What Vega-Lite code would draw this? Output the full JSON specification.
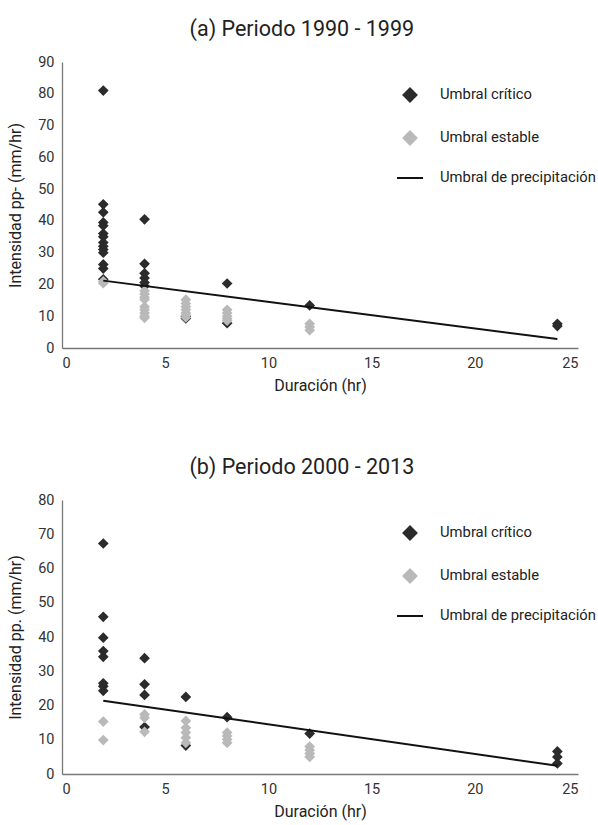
{
  "$schema": "https://vega.github.io/schema/vega-lite/v6.json",
  "background": "white",
  "padding": {"left": 7, "top": 18, "right": 10, "bottom": 5},
  "config": {
    "font": "Roboto, sans-serif",
    "view": {"stroke": null},
    "title": {"font": "Roboto", "fontSize": 21.5, "fontWeight": "normal", "color": "#222222", "offset": 14, "frame": "bounds"},
    "axis": {
      "grid": false,
      "ticks": false,
      "labelOverlap": false,
      "domainColor": "#777777",
      "domainWidth": 1.3,
      "labelFont": "Roboto",
      "labelFontSize": 14.5,
      "labelColor": "#333333",
      "titleFont": "Roboto",
      "titleFontSize": 16,
      "titleFontWeight": "normal",
      "titleColor": "#222222"
    },
    "axisX": {"labelPadding": 8, "titlePadding": 8},
    "axisY": {"labelPadding": 8, "titlePadding": 14},
    "legend": {
      "orient": "none",
      "legendX": 340,
      "legendY": 25,
      "title": null,
      "labelFont": "Roboto",
      "labelFontSize": 14.8,
      "labelColor": "#222222",
      "rowPadding": 21,
      "labelOffset": 22,
      "symbolStrokeWidth": 2
    }
  },
  "datasets": {
    "puntos_a": [
      {"d": 2, "i": 81, "serie": "Umbral crítico"},
      {"d": 2, "i": 45.2, "serie": "Umbral crítico"},
      {"d": 2, "i": 42.7, "serie": "Umbral crítico"},
      {"d": 2, "i": 39.5, "serie": "Umbral crítico"},
      {"d": 2, "i": 38.5, "serie": "Umbral crítico"},
      {"d": 2, "i": 36, "serie": "Umbral crítico"},
      {"d": 2, "i": 35, "serie": "Umbral crítico"},
      {"d": 2, "i": 33.2, "serie": "Umbral crítico"},
      {"d": 2, "i": 32, "serie": "Umbral crítico"},
      {"d": 2, "i": 31, "serie": "Umbral crítico"},
      {"d": 2, "i": 30, "serie": "Umbral crítico"},
      {"d": 2, "i": 26.3, "serie": "Umbral crítico"},
      {"d": 2, "i": 25, "serie": "Umbral crítico"},
      {"d": 2, "i": 21.6, "serie": "Umbral crítico"},
      {"d": 4, "i": 40.5, "serie": "Umbral crítico"},
      {"d": 4, "i": 26.5, "serie": "Umbral crítico"},
      {"d": 4, "i": 23.5, "serie": "Umbral crítico"},
      {"d": 4, "i": 22, "serie": "Umbral crítico"},
      {"d": 4, "i": 20.6, "serie": "Umbral crítico"},
      {"d": 4, "i": 19.5, "serie": "Umbral crítico"},
      {"d": 6, "i": 9.3, "serie": "Umbral crítico"},
      {"d": 6, "i": 10, "serie": "Umbral crítico"},
      {"d": 8, "i": 20.3, "serie": "Umbral crítico"},
      {"d": 8, "i": 7.8, "serie": "Umbral crítico"},
      {"d": 12, "i": 13.4, "serie": "Umbral crítico"},
      {"d": 24, "i": 7.6, "serie": "Umbral crítico"},
      {"d": 24, "i": 6.9, "serie": "Umbral crítico"},
      {"d": 2, "i": 21, "serie": "Umbral estable"},
      {"d": 2, "i": 20.4, "serie": "Umbral estable"},
      {"d": 4, "i": 18, "serie": "Umbral estable"},
      {"d": 4, "i": 17, "serie": "Umbral estable"},
      {"d": 4, "i": 16, "serie": "Umbral estable"},
      {"d": 4, "i": 15.3, "serie": "Umbral estable"},
      {"d": 4, "i": 13, "serie": "Umbral estable"},
      {"d": 4, "i": 12, "serie": "Umbral estable"},
      {"d": 4, "i": 11, "serie": "Umbral estable"},
      {"d": 4, "i": 10, "serie": "Umbral estable"},
      {"d": 4, "i": 9.5, "serie": "Umbral estable"},
      {"d": 6, "i": 15.2, "serie": "Umbral estable"},
      {"d": 6, "i": 14, "serie": "Umbral estable"},
      {"d": 6, "i": 13, "serie": "Umbral estable"},
      {"d": 6, "i": 12, "serie": "Umbral estable"},
      {"d": 6, "i": 11, "serie": "Umbral estable"},
      {"d": 6, "i": 10.3, "serie": "Umbral estable"},
      {"d": 6, "i": 9.6, "serie": "Umbral estable"},
      {"d": 8, "i": 12, "serie": "Umbral estable"},
      {"d": 8, "i": 11, "serie": "Umbral estable"},
      {"d": 8, "i": 10, "serie": "Umbral estable"},
      {"d": 8, "i": 9.2, "serie": "Umbral estable"},
      {"d": 8, "i": 8.6, "serie": "Umbral estable"},
      {"d": 12, "i": 7.6, "serie": "Umbral estable"},
      {"d": 12, "i": 6.6, "serie": "Umbral estable"},
      {"d": 12, "i": 5.6, "serie": "Umbral estable"}
    ],
    "linea_a": [
      {"d": 2, "i": 21.2, "serie": "Umbral de precipitación"},
      {"d": 24, "i": 2.8, "serie": "Umbral de precipitación"}
    ],
    "puntos_b": [
      {"d": 2, "i": 67.3, "serie": "Umbral crítico"},
      {"d": 2, "i": 45.9, "serie": "Umbral crítico"},
      {"d": 2, "i": 39.8, "serie": "Umbral crítico"},
      {"d": 2, "i": 35.9, "serie": "Umbral crítico"},
      {"d": 2, "i": 34.2, "serie": "Umbral crítico"},
      {"d": 2, "i": 26.5, "serie": "Umbral crítico"},
      {"d": 2, "i": 25.6, "serie": "Umbral crítico"},
      {"d": 2, "i": 24.3, "serie": "Umbral crítico"},
      {"d": 4, "i": 33.8, "serie": "Umbral crítico"},
      {"d": 4, "i": 26.2, "serie": "Umbral crítico"},
      {"d": 4, "i": 23.1, "serie": "Umbral crítico"},
      {"d": 4, "i": 13.7, "serie": "Umbral crítico"},
      {"d": 6, "i": 22.5, "serie": "Umbral crítico"},
      {"d": 6, "i": 8.3, "serie": "Umbral crítico"},
      {"d": 8, "i": 16.6, "serie": "Umbral crítico"},
      {"d": 12, "i": 11.8, "serie": "Umbral crítico"},
      {"d": 24, "i": 6.6, "serie": "Umbral crítico"},
      {"d": 24, "i": 5, "serie": "Umbral crítico"},
      {"d": 24, "i": 3.1, "serie": "Umbral crítico"},
      {"d": 2, "i": 15.3, "serie": "Umbral estable"},
      {"d": 2, "i": 9.9, "serie": "Umbral estable"},
      {"d": 4, "i": 17.4, "serie": "Umbral estable"},
      {"d": 4, "i": 16.4, "serie": "Umbral estable"},
      {"d": 4, "i": 12.3, "serie": "Umbral estable"},
      {"d": 6, "i": 15.5, "serie": "Umbral estable"},
      {"d": 6, "i": 13.5, "serie": "Umbral estable"},
      {"d": 6, "i": 12.1, "serie": "Umbral estable"},
      {"d": 6, "i": 10.6, "serie": "Umbral estable"},
      {"d": 6, "i": 9.1, "serie": "Umbral estable"},
      {"d": 8, "i": 12.1, "serie": "Umbral estable"},
      {"d": 8, "i": 11.1, "serie": "Umbral estable"},
      {"d": 8, "i": 10.1, "serie": "Umbral estable"},
      {"d": 8, "i": 9.1, "serie": "Umbral estable"},
      {"d": 12, "i": 8, "serie": "Umbral estable"},
      {"d": 12, "i": 7, "serie": "Umbral estable"},
      {"d": 12, "i": 6, "serie": "Umbral estable"},
      {"d": 12, "i": 5, "serie": "Umbral estable"}
    ],
    "linea_b": [
      {"d": 2, "i": 21.4, "serie": "Umbral de precipitación"},
      {"d": 24, "i": 2.4, "serie": "Umbral de precipitación"}
    ]
  },
  "vconcat": [
    {
      "title": "(a) Periodo 1990 - 1999",
      "width": 516,
      "height": 286,
      "encoding": {
        "x": {"field": "d", "type": "quantitative", "title": "Duración (hr)", "scale": {"domain": [0, 25]}, "axis": {"values": [0, 5, 10, 15, 20, 25]}},
        "y": {"field": "i", "type": "quantitative", "title": "Intensidad pp- (mm/hr)", "scale": {"domain": [0, 90]}, "axis": {"values": [0, 10, 20, 30, 40, 50, 60, 70, 80, 90]}},
        "color": {"field": "serie", "type": "nominal", "scale": {"domain": ["Umbral crítico", "Umbral estable", "Umbral de precipitación"], "range": ["#2b2b2b", "#b9b9b9", "#111111"]},
          "legend": {"encode": {"symbols": {"update": {"size": {"signal": "datum.label === 'Umbral de precipitación' ? 676 : 170"}, "strokeWidth": {"value": 2}}}}}}
      },
      "layer": [
        {
          "data": {"name": "puntos_a"},
          "mark": {"type": "point", "filled": true, "opacity": 1, "size": 115},
          "encoding": {
            "shape": {"field": "serie", "type": "nominal", "scale": {"domain": ["Umbral crítico", "Umbral estable", "Umbral de precipitación"], "range": ["diamond", "diamond", "stroke"]}}
          }
        },
        {
          "data": {"name": "linea_a"},
          "mark": {"type": "line", "strokeWidth": 2},
          "encoding": {}
        }
      ]
    },
    {
      "title": "(b) Periodo 2000 - 2013",
      "width": 516,
      "height": 274,
      "encoding": {
        "x": {"field": "d", "type": "quantitative", "title": "Duración (hr)", "scale": {"domain": [0, 25]}, "axis": {"values": [0, 5, 10, 15, 20, 25]}},
        "y": {"field": "i", "type": "quantitative", "title": "Intensidad pp. (mm/hr)", "scale": {"domain": [0, 80]}, "axis": {"values": [0, 10, 20, 30, 40, 50, 60, 70, 80]}},
        "color": {"field": "serie", "type": "nominal", "scale": {"domain": ["Umbral crítico", "Umbral estable", "Umbral de precipitación"], "range": ["#2b2b2b", "#b9b9b9", "#111111"]},
          "legend": {"encode": {"symbols": {"update": {"size": {"signal": "datum.label === 'Umbral de precipitación' ? 676 : 170"}, "strokeWidth": {"value": 2}}}}}}
      },
      "layer": [
        {
          "data": {"name": "puntos_b"},
          "mark": {"type": "point", "filled": true, "opacity": 1, "size": 115},
          "encoding": {
            "shape": {"field": "serie", "type": "nominal", "scale": {"domain": ["Umbral crítico", "Umbral estable", "Umbral de precipitación"], "range": ["diamond", "diamond", "stroke"]}}
          }
        },
        {
          "data": {"name": "linea_b"},
          "mark": {"type": "line", "strokeWidth": 2},
          "encoding": {}
        }
      ]
    }
  ],
  "resolve": {"scale": {"color": "independent", "shape": "independent"}, "legend": {"color": "independent", "shape": "independent"}},
  "spacing": 62
}
